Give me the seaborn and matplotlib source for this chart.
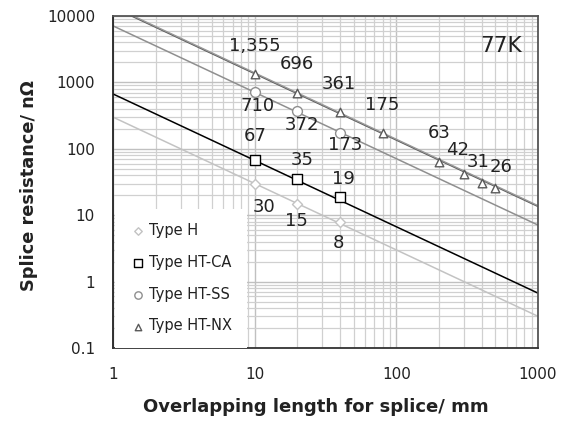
import numpy as np
import pandas as pd
import matplotlib
matplotlib.use("Agg")
import matplotlib.pyplot as plt
import seaborn as sns
from matplotlib.ticker import FixedLocator, LogLocator, NullFormatter

# ---------------- data ----------------
series_names = ["Type H", "Type HT-CA", "Type HT-SS", "Type HT-NX"]
len_h = [10, 20, 40]
res_h = [30, 15, 8]
len_ca = [10, 20, 40]
res_ca = [67, 35, 19]
len_ss = [10, 20, 40]
res_ss = [710, 372, 173]
len_nx = [10, 20, 40, 80, 200, 300, 400, 500]
res_nx = [1355, 696, 361, 175, 63, 42, 31, 26]
x_ticks = [1, 10, 100, 1000]
x_tick_labels = ["1", "10", "100", "1000"]
y_ticks = [0.1, 1, 10, 100, 1000, 10000]
y_tick_labels = ["0.1", "1", "10", "100", "1000", "10000"]

# ---------------- styling ----------------
sns.set_style("white")
plt.rcParams["font.family"] = ["DejaVu Sans"]

colors = {"Type H": "#c3c3c3", "Type HT-CA": "#000000",
          "Type HT-SS": "#8f8f8f", "Type HT-NX": "#5a5a5a"}
markers = {"Type H": "D", "Type HT-CA": "s", "Type HT-SS": "o", "Type HT-NX": "^"}
msizes = {"Type H": 26, "Type HT-CA": 55, "Type HT-SS": 50, "Type HT-NX": 38}
# label offsets in pixels (layout only)
offsets = {
    "Type H": [(9, -23), (-1, -17), (-2, -21)],
    "Type HT-CA": [(1, 24), (5, 19), (3, 18)],
    "Type HT-SS": [(3, -14), (5, -14), (5, -12)],
    "Type HT-NX": [(0, 28), (0, 29), (-1, 28), (0, 28), (0, 29), (-6, 24), (-4, 21), (6, 21)],
}

data = {
    "Type H": (len_h, res_h),
    "Type HT-CA": (len_ca, res_ca),
    "Type HT-SS": (len_ss, res_ss),
    "Type HT-NX": (len_nx, res_nx),
}

fig = plt.figure(figsize=(5.63, 4.21), dpi=100)
ax = fig.add_axes([0.2007, 0.1734, 0.7549, 0.7886])
ax.set_xscale("log")
ax.set_yscale("log")
ax.set_xlim(1, 1000)
ax.set_ylim(0.1, 10000)

# fit lines R = k / L, k from measured points
x_line = np.logspace(0, 3, 50)
for name in series_names:
    L, R = data[name]
    k = R[0] * L[0]
    df_line = pd.DataFrame({"x": x_line, "y": k / x_line})
    sns.lineplot(data=df_line, x="x", y="y", ax=ax, color=colors[name],
                 lw=1.1, legend=False, zorder=2)
# second (nearly coincident) line for HT-NX
k2 = res_nx[1] * len_nx[1]
sns.lineplot(x=x_line, y=k2 / x_line, ax=ax, color="#9a9a9a", lw=1.0,
             legend=False, zorder=2)

for name in series_names:
    L, R = data[name]
    df = pd.DataFrame({"x": L, "y": R})
    sns.scatterplot(data=df, x="x", y="y", ax=ax, marker=markers[name],
                    s=msizes[name], facecolor="white", edgecolor=colors[name],
                    linewidth=1.0, label=name, zorder=3)
    for (xv, yv), off in zip(zip(L, R), offsets[name]):
        ax.annotate(f"{yv:,}", (xv, yv), xytext=off, textcoords="offset pixels",
                    ha="center", va="center", fontsize=13, color="#222222", zorder=4)

ax.text(0.913, 0.91, "77K", transform=ax.transAxes, ha="center", va="center",
        fontsize=15.5, color="#222222")

# grid / ticks
ax.xaxis.set_major_locator(FixedLocator(x_ticks))
ax.set_xticklabels(x_tick_labels)
ax.yaxis.set_major_locator(FixedLocator(y_ticks))
ax.set_yticklabels(y_tick_labels)
ax.xaxis.set_minor_locator(LogLocator(base=10, subs=np.arange(2, 10)))
ax.yaxis.set_minor_locator(LogLocator(base=10, subs=np.arange(2, 10)))
ax.xaxis.set_minor_formatter(NullFormatter())
ax.yaxis.set_minor_formatter(NullFormatter())
ax.grid(which="major", color="#c0c0c0", lw=1.0)
ax.grid(which="minor", color="#d0d0d0", lw=0.9)
ax.set_axisbelow(True)
ax.tick_params(axis="y", which="major", length=5, width=0.8, color="#333333",
               direction="out", pad=8, labelsize=11, labelcolor="#222222")
ax.tick_params(axis="x", which="major", length=0, pad=14, labelsize=11,
               labelcolor="#222222")
ax.tick_params(which="minor", length=0)
for sp in ax.spines.values():
    sp.set_color("#555555")
    sp.set_linewidth(1.3)
ax.spines["left"].set_color("#222222")
ax.spines["bottom"].set_color("#333333")

ax.set_xlabel("Overlapping length for splice/ mm", fontsize=13, fontweight="bold",
              color="#222222")
ax.set_ylabel("Splice resistance/ nΩ", fontsize=12.8, fontweight="bold",
              color="#222222")
ax.xaxis.set_label_coords(0.478, -0.152)
ax.yaxis.set_label_coords(-0.176, 0.488)

leg = ax.legend(loc="lower left", bbox_to_anchor=(0.004, 0.0), frameon=True,
                fancybox=False, edgecolor="none", facecolor="white", framealpha=1,
                fontsize=10.5, labelspacing=1.15, handletextpad=0.15,
                handlelength=1.2, borderpad=1.0, borderaxespad=0.0, markerscale=0.75)
for t in leg.get_texts():
    t.set_color("#222222")

fig.savefig("out.png", dpi=100)
